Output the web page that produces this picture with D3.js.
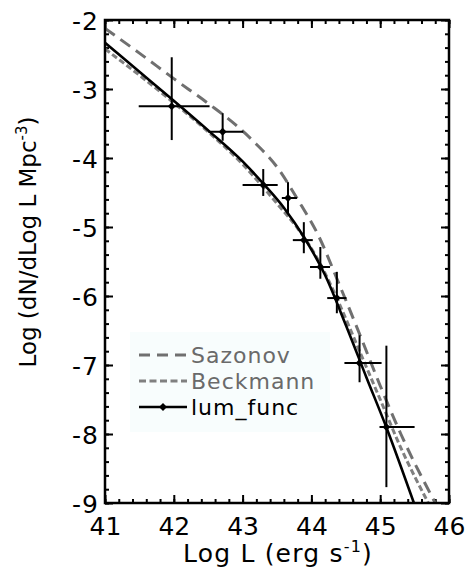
<!DOCTYPE html>
<html><head><meta charset="utf-8">
<script src="https://cdn.jsdelivr.net/npm/d3@7/dist/d3.min.js"></script>
<style>body{margin:0;background:#fff}svg{display:block}text{font-family:"DejaVu Sans",sans-serif}</style>
</head><body>
<svg id="c" width="468" height="572"></svg>
<script>
// Data (log L, log dN/dlogL)
const lumX   = [41.97, 42.71, 43.30, 43.66, 43.89, 44.13, 44.37, 44.70, 45.09];
const lumY   = [-3.25, -3.62, -4.39, -4.58, -5.19, -5.58, -6.03, -6.97, -7.90];
const lumXlo = [41.49, 42.50, 43.00, 43.57, 43.73, 43.98, 44.23, 44.48, 44.99];
const lumXhi = [42.52, 43.01, 43.51, 43.79, 44.02, 44.27, 44.51, 45.02, 45.50];
const lumYlo = [-3.74, -3.75, -4.55, -4.80, -5.38, -5.75, -6.25, -7.25, -8.77];
const lumYhi = [-2.54, -3.35, -4.16, -4.35, -4.93, -5.29, -5.65, -6.57, -6.72];
const fitX = [41.0, 41.5, 42.0, 42.5, 43.0, 43.3, 43.6, 43.9, 44.2, 44.5, 44.8, 45.1, 45.49];
const fitY = [-2.33, -2.75, -3.17, -3.60, -4.05, -4.37, -4.72, -5.16, -5.70, -6.42, -7.18, -7.93, -9.0];
const sazX = [41.0, 41.5, 42.0, 42.5, 42.9, 43.2, 43.5, 43.8, 44.1, 44.4, 44.7, 45.0, 45.3, 45.8];
const sazY = [-2.12, -2.48, -2.85, -3.21, -3.52, -3.80, -4.13, -4.60, -5.12, -5.82, -6.55, -7.30, -8.00, -9.0];
const becX = [41.0, 41.5, 42.0, 42.5, 43.0, 43.5, 43.8, 44.1, 44.4, 44.7, 45.0, 45.3, 45.7];
const becY = [-2.42, -2.80, -3.20, -3.62, -4.09, -4.66, -5.02, -5.48, -6.10, -6.80, -7.50, -8.20, -9.0];
const xTicks = [41, 42, 43, 44, 45, 46];
const yTicks = [-2, -3, -4, -5, -6, -7, -8, -9];
const legendNames = ["Sazonov", "Beckmann", "lum_func"];

const L = 105, R = 449, T = 20, B = 503;
const svg = d3.select("#c");
const x = d3.scaleLinear([41, 46], [L, R]);
const y = d3.scaleLinear([-9, -2], [B, T]);

svg.append("defs").append("clipPath").attr("id", "clip")
  .append("rect").attr("x", L).attr("y", T).attr("width", R - L).attr("height", B - T);

const minorX = d3.range(41, 46.001, 0.2).map(v => +v.toFixed(2));
const minorY = d3.range(-9, -1.999, 0.2).map(v => +v.toFixed(2));

function axis(gen, ticks, size, tr, labels) {
  const g = svg.append("g").attr("transform", tr)
    .call(gen.tickValues(ticks).tickSize(size).tickPadding(8)
      .tickFormat(labels ? (d => String(d)) : () => ""));
  g.select(".domain").remove();
  g.selectAll("line").attr("stroke", "#000").attr("stroke-width", 2);
  g.selectAll("text").attr("font-size", 25).attr("fill", "#000")
    .attr("font-family", "DejaVu Sans, sans-serif");
  return g;
}
axis(d3.axisBottom(x), minorX, -4, `translate(0,${B})`, false);
axis(d3.axisTop(x), minorX, -4, `translate(0,${T})`, false);
axis(d3.axisLeft(y), minorY, -4, `translate(${L},0)`, false);
axis(d3.axisRight(y), minorY, -4, `translate(${R},0)`, false);
const gb = axis(d3.axisBottom(x), xTicks, -8, `translate(0,${B})`, true);
gb.selectAll("text").attr("dy", "0.95em");
axis(d3.axisTop(x), xTicks, -8, `translate(0,${T})`, false);
const gl = axis(d3.axisLeft(y), yTicks, -8, `translate(${L},0)`, true);
gl.selectAll("text").attr("x", -6).attr("dy", "0.36em").attr("letter-spacing", 1);
axis(d3.axisRight(y), yTicks, -8, `translate(${R},0)`, false);

// curves
const plot = svg.append("g").attr("clip-path", "url(#clip)");
const line = d3.line().x(d => x(d[0])).y(d => y(d[1])).curve(d3.curveMonotoneX);
plot.append("path").datum(becX.map((v, i) => [v, becY[i]])).attr("d", line)
  .attr("fill", "none").attr("stroke", "#808080").attr("stroke-width", 3).attr("stroke-dasharray", "6,3");
plot.append("path").datum(sazX.map((v, i) => [v, sazY[i]])).attr("d", line)
  .attr("fill", "none").attr("stroke", "#707070").attr("stroke-width", 3).attr("stroke-dasharray", "12,7");
plot.append("path").datum(fitX.map((v, i) => [v, fitY[i]])).attr("d", line)
  .attr("fill", "none").attr("stroke", "#000").attr("stroke-width", 2.6);

// error bars and points
const pts = lumX.map((v, i) => ({x: v, y: lumY[i], xl: lumXlo[i], xh: lumXhi[i], yl: lumYlo[i], yh: lumYhi[i]}));
const eg = plot.append("g").attr("stroke", "#000").attr("stroke-width", 2);
eg.selectAll(".h").data(pts).join("line")
  .attr("x1", d => x(d.xl)).attr("x2", d => x(d.xh)).attr("y1", d => y(d.y)).attr("y2", d => y(d.y));
eg.selectAll(".v").data(pts).join("line")
  .attr("x1", d => x(d.x)).attr("x2", d => x(d.x)).attr("y1", d => y(d.yl)).attr("y2", d => y(d.yh));
const diamond = d3.symbol(d3.symbolDiamond2, 40);
plot.selectAll(".pt").data(pts).join("path")
  .attr("d", diamond).attr("transform", d => `translate(${x(d.x)},${y(d.y)})`).attr("fill", "#000");

// frame
svg.append("rect").attr("x", L).attr("y", T).attr("width", R - L).attr("height", B - T)
  .attr("fill", "none").attr("stroke", "#000").attr("stroke-width", 2.5);

// legend
const lg = svg.append("g");
lg.append("rect").attr("x", 130).attr("y", 332).attr("width", 200).attr("height", 100).attr("fill", "#f8fdfd");
const ly = [355, 381, 407];
const styles = [
  {c: "#707070", dash: "11,7", w: 3, tc: "#6a6a6a"},
  {c: "#808080", dash: "7,3.5", w: 3, tc: "#6a6a6a"},
  {c: "#000", dash: null, w: 2.6, tc: "#000"}
];
legendNames.forEach((n, i) => {
  const s = styles[i];
  const ln = lg.append("line").attr("x1", 139).attr("x2", 187).attr("y1", ly[i]).attr("y2", ly[i])
    .attr("stroke", s.c).attr("stroke-width", s.w);
  if (s.dash) ln.attr("stroke-dasharray", s.dash);
  if (i === 2) lg.append("path").attr("d", diamond).attr("transform", `translate(163,${ly[i]})`).attr("fill", "#000");
  lg.append("text").attr("x", 191).attr("y", ly[i]).attr("dy", "0.36em").attr("font-size", 22)
    .attr("letter-spacing", 1).attr("fill", s.tc).text(n);
});

// axis titles
const xt = svg.append("text").attr("x", (L + R) / 2 + 1).attr("y", 562).attr("text-anchor", "middle")
  .attr("font-size", 25).attr("letter-spacing", 1.2);
xt.append("tspan").text("Log L (erg s");
xt.append("tspan").attr("font-size", 16).attr("dy", -10).text("-1");
xt.append("tspan").attr("dy", 10).text(")");
const yt = svg.append("text").attr("transform", "translate(36,242) rotate(-90)").attr("text-anchor", "middle")
  .attr("font-size", 23);
yt.append("tspan").text("Log (dN/dLog L Mpc");
yt.append("tspan").attr("font-size", 15).attr("dy", -9).text("-3");
yt.append("tspan").attr("dy", 9).text(")");
</script>
</body></html>
